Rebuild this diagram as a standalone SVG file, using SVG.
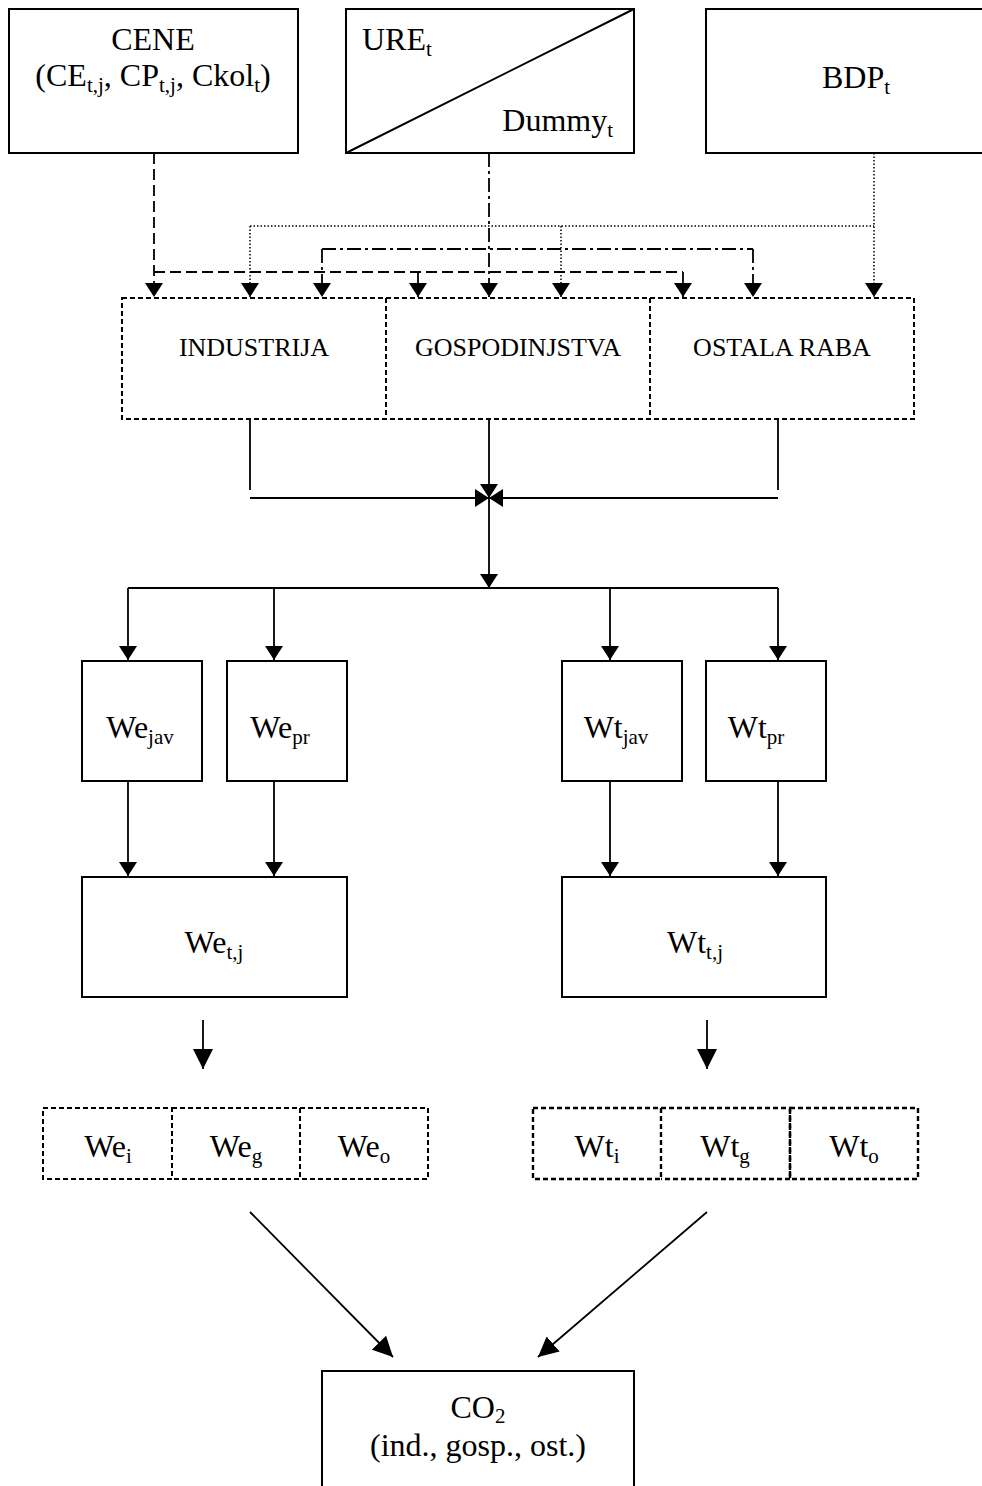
<svg xmlns="http://www.w3.org/2000/svg" width="982" height="1486" viewBox="0 0 982 1486">
<defs>
<style>
.box{fill:#fff;stroke:#000;stroke-width:2}
.dbox{fill:none;stroke:#000;stroke-width:2;stroke-dasharray:5 3}
.dbox2{fill:none;stroke:#000;stroke-width:2.4;stroke-dasharray:5 3}
.t{font-family:"Liberation Serif","Times New Roman",serif;font-size:32px;fill:#000}
.s{font-size:21px}
.sec{font-size:26px}
.ln{fill:none;stroke:#000;stroke-width:1.8}
.dash{stroke-dasharray:11 5}
.dashdot{stroke-dasharray:14 4 3 4}
.dot{stroke-width:1.5;stroke-dasharray:1.5 2}
.arr{marker-end:url(#ah)}
.arrb{marker-end:url(#ahb)}
</style>
<marker id="ah" markerUnits="userSpaceOnUse" markerWidth="14" markerHeight="18" viewBox="0 0 14 18" refX="14" refY="9" orient="auto"><path d="M0,0 L14,9 L0,18 z" fill="#000"/></marker>
<marker id="ahb" markerUnits="userSpaceOnUse" markerWidth="20" markerHeight="20" viewBox="0 0 20 20" refX="20" refY="10" orient="auto"><path d="M0,0 L20,10 L0,20 z" fill="#000"/></marker>
</defs>
<rect width="982" height="1486" fill="#fff"/>

<g id="cene">
<rect class="box" x="9" y="9" width="289" height="144"/>
<text class="t" x="153" y="50" text-anchor="middle">CENE</text>
<text class="t" x="153" y="86" text-anchor="middle">(CE<tspan class="s" dy="6">t,j</tspan><tspan dy="-6">, CP</tspan><tspan class="s" dy="6">t,j</tspan><tspan dy="-6">, Ckol</tspan><tspan class="s" dy="6">t</tspan><tspan dy="-6">)</tspan></text>
</g>
<g id="ure">
<rect class="box" x="346" y="9" width="288" height="144"/>
<line x1="346" y1="153" x2="634" y2="9" stroke="#000" stroke-width="2"/>
<text class="t" x="362" y="50">URE<tspan class="s" dy="6">t</tspan></text>
<text class="t" x="613" y="131" text-anchor="end">Dummy<tspan class="s" dy="6">t</tspan></text>
</g>
<g id="bdp">
<rect class="box" x="706" y="9" width="290" height="144"/>
<text class="t" x="856" y="88" text-anchor="middle">BDP<tspan class="s" dy="6">t</tspan></text>
</g>

<g id="connectors">
<path class="ln dash arr" d="M154,153 V297"/>
<path class="ln dash" d="M154,272 H683"/>
<path class="ln arr" d="M418,272 V297"/>
<path class="ln arr" d="M683,272 V297"/>
<path class="ln dashdot arr" d="M489,153 V297"/>
<path class="ln dashdot" d="M322,249 H753"/>
<path class="ln dashdot arr" d="M322,249 V297"/>
<path class="ln dashdot arr" d="M753,249 V297"/>
<path class="ln dot arr" d="M874,153 V297"/>
<path class="ln dot" d="M250,226 H874"/>
<path class="ln dot arr" d="M250,226 V297"/>
<path class="ln dot arr" d="M561,226 V297"/>

<path class="ln" d="M250,420 V490"/>
<path class="ln" d="M778,420 V490"/>
<path class="ln arr" d="M250,498 H489"/>
<path class="ln arr" d="M778,498 H489"/>
<path class="ln arr" d="M489,420 V498"/>
<path class="ln arr" d="M489,498 V588"/>
<path class="ln" d="M128,588 H778"/>
<path class="ln arr" d="M128,588 V660"/>
<path class="ln arr" d="M274,588 V660"/>
<path class="ln arr" d="M610,588 V660"/>
<path class="ln arr" d="M778,588 V660"/>

<path class="ln arr" d="M128,781 V876"/>
<path class="ln arr" d="M274,781 V876"/>
<path class="ln arr" d="M610,781 V876"/>
<path class="ln arr" d="M778,781 V876"/>

<path class="ln arrb" d="M203,1020 V1069"/>
<path class="ln arrb" d="M707,1020 V1069"/>

<path class="ln arrb" d="M250,1212 L393,1357"/>
<path class="ln arrb" d="M707,1212 L538,1357"/>
</g>

<g id="industrija">
<rect class="dbox" x="122" y="298" width="264" height="121"/>
<text class="t sec" x="254" y="356" text-anchor="middle">INDUSTRIJA</text>
</g>
<g id="gospodinjstva">
<path class="dbox" d="M386,298 H650 V419 H386"/>
<text class="t sec" x="518" y="356" text-anchor="middle">GOSPODINJSTVA</text>
</g>
<g id="ostala">
<path class="dbox" d="M650,298 H914 V419 H650"/>
<text class="t sec" x="782" y="356" text-anchor="middle">OSTALA RABA</text>
</g>

<g id="wejav">
<rect class="box" x="82" y="661" width="120" height="120"/>
<text class="t" x="140" y="738" text-anchor="middle">We<tspan class="s" dy="6">jav</tspan></text>
</g>
<g id="wepr">
<rect class="box" x="227" y="661" width="120" height="120"/>
<text class="t" x="280" y="738" text-anchor="middle">We<tspan class="s" dy="6">pr</tspan></text>
</g>
<g id="wtjav">
<rect class="box" x="562" y="661" width="120" height="120"/>
<text class="t" x="616" y="738" text-anchor="middle">Wt<tspan class="s" dy="6">jav</tspan></text>
</g>
<g id="wtpr">
<rect class="box" x="706" y="661" width="120" height="120"/>
<text class="t" x="756" y="738" text-anchor="middle">Wt<tspan class="s" dy="6">pr</tspan></text>
</g>
<g id="wetj">
<rect class="box" x="82" y="877" width="265" height="120"/>
<text class="t" x="214" y="953" text-anchor="middle">We<tspan class="s" dy="6">t,j</tspan></text>
</g>
<g id="wttj">
<rect class="box" x="562" y="877" width="264" height="120"/>
<text class="t" x="695" y="953" text-anchor="middle">Wt<tspan class="s" dy="6">t,j</tspan></text>
</g>

<g id="wei">
<rect class="dbox" x="43" y="1108" width="129" height="71"/>
<text class="t" x="108" y="1157" text-anchor="middle">We<tspan class="s" dy="6">i</tspan></text>
</g>
<g id="weg">
<path class="dbox" d="M172,1108 H300 V1179 H172"/>
<text class="t" x="236" y="1157" text-anchor="middle">We<tspan class="s" dy="6">g</tspan></text>
</g>
<g id="weo">
<path class="dbox" d="M300,1108 H428 V1179 H300"/>
<text class="t" x="364" y="1157" text-anchor="middle">We<tspan class="s" dy="6">o</tspan></text>
</g>
<g id="wti">
<rect class="dbox2" x="533" y="1108" width="128" height="71"/>
<text class="t" x="597" y="1157" text-anchor="middle">Wt<tspan class="s" dy="6">i</tspan></text>
</g>
<g id="wtg">
<path class="dbox2" d="M661,1108 H790 V1179 H661"/>
<text class="t" x="725" y="1157" text-anchor="middle">Wt<tspan class="s" dy="6">g</tspan></text>
</g>
<g id="wto">
<path class="dbox2" d="M790,1108 H918 V1179 H790 Z"/>
<text class="t" x="854" y="1157" text-anchor="middle">Wt<tspan class="s" dy="6">o</tspan></text>
</g>

<g id="co2">
<rect class="box" x="322" y="1371" width="312" height="130"/>
<text class="t" x="478" y="1418" text-anchor="middle">CO<tspan class="s" dy="5">2</tspan></text>
<text class="t" x="478" y="1456" text-anchor="middle">(ind., gosp., ost.)</text>
</g>
</svg>
